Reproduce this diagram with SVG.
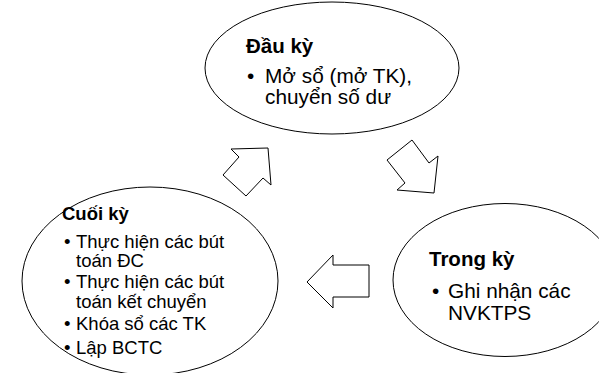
<svg xmlns="http://www.w3.org/2000/svg" width="599" height="373" viewBox="0 0 599 373">
<style>
.shape{fill:#fff;stroke:#000;stroke-width:1}
.t{font-family:"Liberation Sans",Arial,sans-serif;fill:#000}
.h20{font-size:20.5px;font-weight:bold}
.b20{font-size:20.8px}
.h18{font-size:18.5px;font-weight:bold}
.b18{font-size:18.5px}
</style>
<rect width="599" height="373" fill="#fff"/>
<g id="connectors">
<polygon class="shape" points="268,148 231,149 239,157 223,175 246,196 263,178 271,185"/>
<polygon class="shape" points="412,140 387,160 405,183 397,190 434,193 438,156 429,163"/>
<polygon class="shape" points="307,282 333,255 333,265 369,265 369,297 333,297 333,308"/>
</g>
<g id="node-dau-ky">
<ellipse class="shape" cx="332" cy="68" rx="127" ry="66"/>
<text class="t h20" x="246" y="53">Đầu kỳ</text>
<text class="t b20" x="247" y="83">•</text>
<text class="t b20" x="265" y="83">Mở sổ (mở TK),</text>
<text class="t b20" x="265" y="104">chuyển số dư</text>
</g>
<g id="node-trong-ky">
<ellipse class="shape" cx="505" cy="280" rx="112" ry="76.5"/>
<text class="t h20" x="429" y="266">Trong kỳ</text>
<text class="t b20" x="432" y="298">•</text>
<text class="t b20" x="448" y="298">Ghi nhận các</text>
<text class="t b20" x="448" y="320">NVKTPS</text>
</g>
<g id="node-cuoi-ky">
<ellipse class="shape" cx="150" cy="281" rx="128" ry="94"/>
<text class="t h18" x="62" y="220">Cuối kỳ</text>
<text class="t b18" x="64" y="248">•</text>
<text class="t b18" x="76" y="248">Thực hiện các bút</text>
<text class="t b18" x="76" y="267">toán ĐC</text>
<text class="t b18" x="64" y="288">•</text>
<text class="t b18" x="76" y="288">Thực hiện các bút</text>
<text class="t b18" x="76" y="308">toán kết chuyển</text>
<text class="t b18" x="64" y="330">•</text>
<text class="t b18" x="76" y="330">Khóa sổ các TK</text>
<text class="t b18" x="64" y="354">•</text>
<text class="t b18" x="76" y="354">Lập BCTC</text>
</g>
</svg>
